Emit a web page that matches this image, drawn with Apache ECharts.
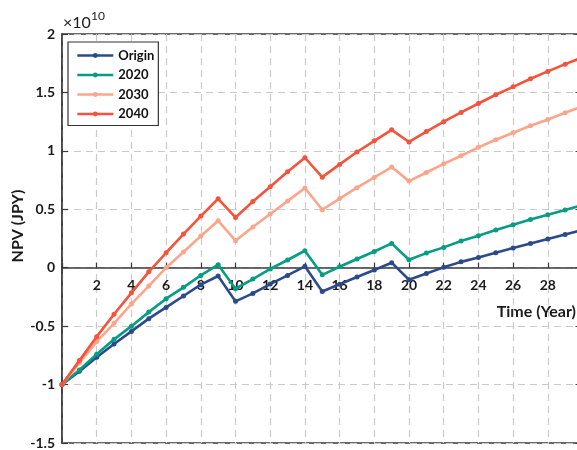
<!DOCTYPE html>
<html>
<head>
<meta charset="utf-8">
<script src="https://cdn.jsdelivr.net/npm/echarts@6/dist/echarts.min.js"></script>
<style>
  html, body { margin: 0; padding: 0; background: #fff; }
  #chart { width: 577px; height: 450px; }
</style>
</head>
<body>
<div id="chart"></div>
<script>
// Project years 0..30
const years = [0, 1, 2, 3, 4, 5, 6, 7, 8, 9, 10, 11, 12, 13, 14, 15, 16, 17, 18, 19, 20, 21, 22, 23, 24, 25, 26, 27, 28, 29, 30];

// Cumulative NPV, in units of 10^10 JPY
const npvOrigin = [-1, -0.887, -0.767, -0.653, -0.545, -0.436, -0.34, -0.242, -0.145, -0.071, -0.288, -0.22, -0.14, -0.066, 0.012, -0.203, -0.142, -0.08, -0.02, 0.043, -0.103, -0.049, 0.003, 0.05, 0.088, 0.128, 0.168, 0.207, 0.245, 0.285, 0.322];
const npv2020 = [-1, -0.875, -0.74, -0.613, -0.5, -0.38, -0.265, -0.168, -0.066, 0.026, -0.18, -0.097, -0.011, 0.066, 0.145, -0.061, 0.008, 0.075, 0.139, 0.208, 0.068, 0.125, 0.174, 0.228, 0.274, 0.322, 0.368, 0.413, 0.453, 0.494, 0.535];
const npv2030 = [-1, -0.815, -0.632, -0.476, -0.31, -0.157, 0.0, 0.134, 0.271, 0.402, 0.231, 0.348, 0.459, 0.57, 0.682, 0.496, 0.592, 0.685, 0.773, 0.861, 0.741, 0.815, 0.889, 0.958, 1.03, 1.095, 1.155, 1.215, 1.269, 1.326, 1.38];
const npv2040 = [-1, -0.795, -0.59, -0.398, -0.215, -0.035, 0.128, 0.288, 0.442, 0.59, 0.43, 0.567, 0.693, 0.822, 0.941, 0.775, 0.884, 0.99, 1.086, 1.18, 1.076, 1.165, 1.25, 1.329, 1.405, 1.48, 1.548, 1.617, 1.68, 1.742, 1.8];

const seriesNames = ['Origin', '2020', '2030', '2040'];
const seriesValues = [npvOrigin, npv2020, npv2030, npv2040];
const seriesColors = ['#2b4a8b', '#079c84', '#fba58b', '#f5533b'];

// Axis ranges / ticks
const yMin = -1.5, yMax = 2, yStep = 0.5;
const xMin = 0, xMax = 30, xStep = 2;

// Plot box (px)
const W = 577, H = 450;
const plotLeft = 62, plotTop = 34, plotRight = 582.5, plotBottom = 443;
// The time axis crosses the NPV axis at 0: shift it up from the bottom edge
const zeroY = plotTop + (yMax - 0) / (yMax - yMin) * (plotBottom - plotTop);
const xAxisOffset = -(plotBottom - zeroY);

const FONT = 'Lato, "Open Sans", sans-serif';
const AXIS_COLOR = '#3a3a3a';
const GRID_DASH = { color: '#cacaca', width: 1.2, type: [7, 5] };

const chart = echarts.init(document.getElementById('chart'), null, { renderer: 'canvas' });

const series = seriesNames.map((name, i) => ({
  name: name,
  type: 'line',
  data: years.map((yr, k) => [yr, seriesValues[i][k]]),
  symbol: 'circle',
  symbolSize: 5,
  showSymbol: true,
  lineStyle: { width: 2.6, color: seriesColors[i] },
  itemStyle: { color: seriesColors[i] },
  emphasis: { disabled: true },
  z: 3 + i
}));

chart.setOption({
  animation: false,
  backgroundColor: '#fff',
  grid: {
    left: plotLeft, top: plotTop, right: W - plotRight, bottom: H - plotBottom,
    outerBoundsMode: 'none',
    containLabel: false,
    show: true, borderColor: AXIS_COLOR, borderWidth: 1.5, backgroundColor: 'transparent'
  },
  legend: {
    orient: 'vertical',
    left: 68, top: 42,
    itemWidth: 36, itemHeight: 6, itemGap: 6.5,
    padding: [7, 4, 5, 8],
    backgroundColor: '#fff',
    borderColor: '#333', borderWidth: 1.2, borderRadius: 0,
    lineStyle: { width: 2.6 },
    textStyle: { fontFamily: FONT, fontWeight: 'bold', fontSize: 13, color: '#111' },
    data: seriesNames
  },
  xAxis: {
    type: 'value', min: xMin, max: xMax, interval: xStep,
    position: 'bottom', offset: xAxisOffset,
    axisLine: { show: true, onZero: false, lineStyle: { color: AXIS_COLOR, width: 1.5 } },
    axisTick: { show: true, inside: true, length: 5, lineStyle: { color: AXIS_COLOR, width: 1.2 } },
    axisLabel: {
      margin: 11, fontFamily: FONT, fontWeight: 'bold', fontSize: 14, color: '#1a1a1a',
      formatter: v => (v === xMin || v === xMax) ? '' : String(v)
    },
    splitLine: { show: true, lineStyle: GRID_DASH }
  },
  yAxis: [{
    type: 'value', min: yMin, max: yMax, interval: yStep,
    axisLine: { show: true, onZero: false, lineStyle: { color: AXIS_COLOR, width: 1.5 } },
    axisTick: { show: true, inside: true, length: 6, lineStyle: { color: AXIS_COLOR, width: 1.2 } },
    axisLabel: {
      margin: 7, fontFamily: FONT, fontWeight: 'bold', fontSize: 14, color: '#1a1a1a',
      formatter: v => String(v)
    },
    splitLine: { show: true, lineStyle: GRID_DASH }
  }, {
    type: 'value', position: 'right', min: yMin, max: yMax, interval: yStep,
    axisLine: { show: false, onZero: false },
    axisTick: { show: true, inside: true, length: 7, lineStyle: { color: AXIS_COLOR, width: 1.2 } },
    axisLabel: { show: false },
    splitLine: { show: false }
  }],
  graphic: [
    {
      type: 'text', x: 18, y: 226, rotation: Math.PI / 2,
      style: { text: 'NPV (JPY)', font: 'bold 16px ' + FONT, fill: '#1a1a1a', align: 'center', verticalAlign: 'middle' }
    },
    {
      type: 'text', x: 576, y: 312,
      style: { text: 'Time (Year)', font: 'bold 16px ' + FONT, fill: '#1a1a1a', align: 'right', verticalAlign: 'middle' }
    },
    {
      type: 'text', x: 63, y: 23,
      style: { text: '×10', font: '16px ' + FONT, fill: '#1a1a1a', align: 'left', verticalAlign: 'middle' }
    },
    {
      type: 'text', x: 91, y: 16,
      style: { text: '10', font: '12px ' + FONT, fill: '#1a1a1a', align: 'left', verticalAlign: 'middle' }
    }
  ],
  series: series
});
</script>
</body>
</html>
